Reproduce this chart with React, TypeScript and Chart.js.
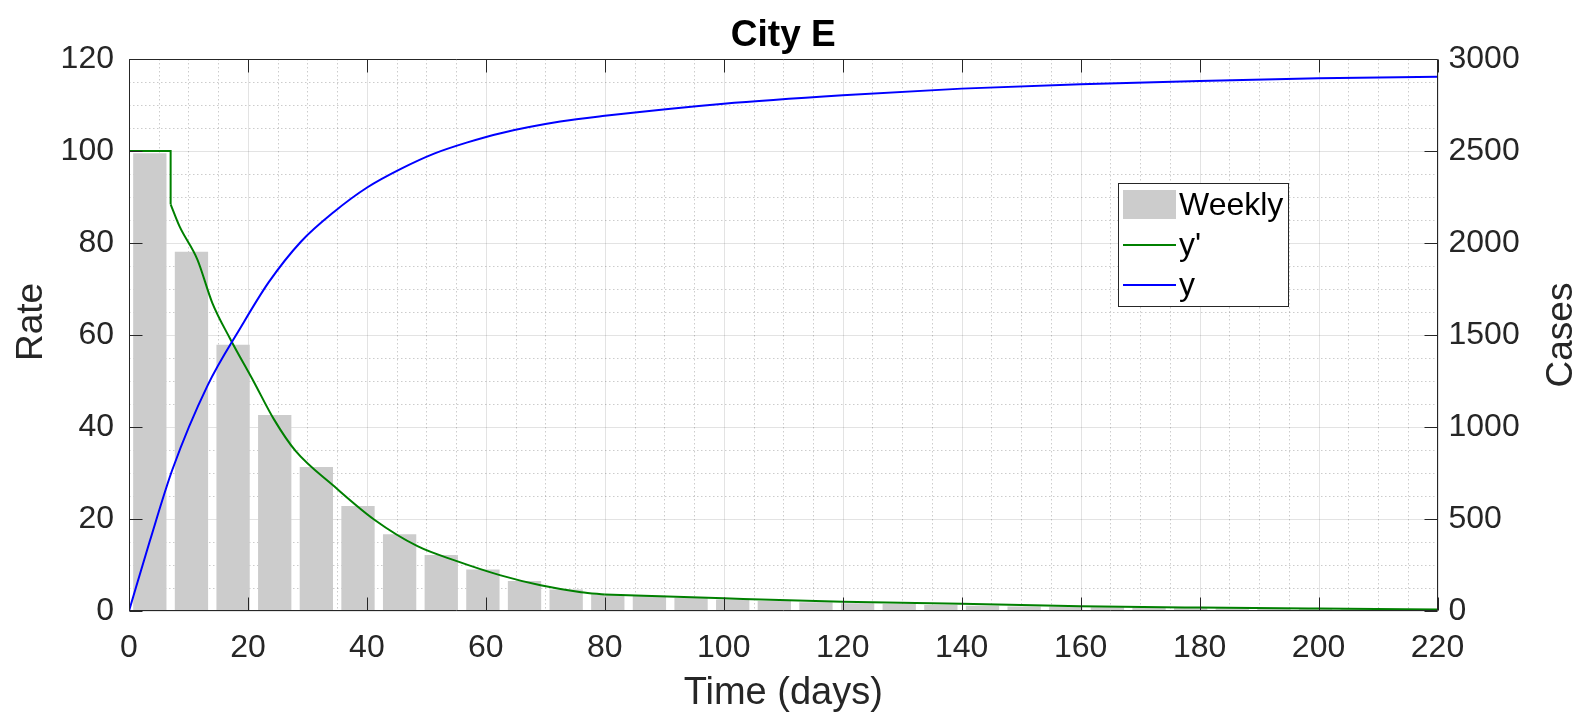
import React, { useEffect, useRef } from 'react';
import { Chart, registerables } from 'chart.js';

Chart.register(...registerables);

const FONT = '"Liberation Sans", Arial, Helvetica, sans-serif';

const chartTitle = 'City E';
const xTitle = 'Time (days)';
const yLeftTitle = 'Rate';
const yRightTitle = 'Cases';
const legendLabels = ['Weekly', "y'", 'y'];

const xTickValues = [0, 20, 40, 60, 80, 100, 120, 140, 160, 180, 200, 220];
const yLeftTickValues = [0, 20, 40, 60, 80, 100, 120];
const yRightTickValues = [0, 500, 1000, 1500, 2000, 2500, 3000];

const weekCenters = [3.5, 10.5, 17.5, 24.5, 31.5, 38.5, 45.5, 52.5, 59.5, 66.5, 73.5, 80.5, 87.5, 94.5, 101.5, 108.5, 115.5, 122.5, 129.5, 136.5, 143.5, 150.5, 157.5, 164.5, 171.5, 178.5, 185.5, 192.5, 199.5, 206.5, 213.5, 220.5];
const weeklyRate = [99.5, 78.1, 57.9, 42.6, 31.3, 22.8, 16.7, 12.2, 9.0, 6.5, 4.7, 3.6, 3.3, 2.8, 2.5, 2.2, 1.9, 1.7, 1.5, 1.3, 1.15, 1.0, 0.9, 0.8, 0.7, 0.65, 0.6, 0.55, 0.5, 0.45, 0.4, 0.35];

// y' : flat start, drop at day 7, smooth decay to day 80, slow tail after
const rateHeadDays = [0, 7, 7];
const rateHeadValues = [100, 100, 88.4];
const rateMidDays = [7, 8.5, 11.5, 14, 17, 21, 24.4, 28, 34.5, 41.2, 48.5, 55, 62.5, 69.2, 76, 80];
const rateMidValues = [88.4, 83.6, 76.4, 67.0, 59.2, 49.8, 41.6, 34.8, 27.1, 19.9, 14.1, 10.9, 7.75, 5.6, 4.1, 3.6];
const rateTailDays = [80, 100, 120, 140, 160, 180, 200, 220];
const rateTailValues = [3.6, 2.75, 2.0, 1.55, 1.05, 0.75, 0.52, 0.32];

const caseDays = [0, 3.5, 7.3, 13.2, 18.8, 23.5, 28.9, 34.5, 40.1, 45.7, 51.3, 56.9, 62.5, 72.5, 80, 100, 120, 140, 160, 180, 200, 220];
const caseValues = [0, 380, 769, 1225, 1542, 1787, 2007, 2170, 2303, 2403, 2486, 2547, 2597, 2660, 2691, 2757, 2803, 2839, 2863, 2881, 2895, 2904];

const xMinorValues = [5, 10, 15, 25, 30, 35, 45, 50, 55, 65, 70, 75, 85, 90, 95, 105, 110, 115, 125, 130, 135, 145, 150, 155, 165, 170, 175, 185, 190, 195, 205, 210, 215];
const yMinorValues = [5, 10, 15, 25, 30, 35, 45, 50, 55, 65, 70, 75, 85, 90, 95, 105, 110, 115];

const BAR_COLOR = '#cccccc';
const GREEN = '#008000';
const BLUE = '#0000ff';
const AXIS = '#262626';

const toPoints = (xs: number[], ys: number[]) => xs.map((d, i) => ({ x: d, y: ys[i] }));

const decorPlugin = {
  id: 'matlabDecor',
  beforeDatasetsDraw(chart: any) {
    const { ctx, chartArea: a, scales } = chart;
    const x = scales.x;
    const y = scales.y;
    ctx.save();
    ctx.lineWidth = 1;
    ctx.strokeStyle = 'rgba(0,0,0,0.2)';
    ctx.setLineDash([1.5, 2.5]);
    xMinorValues.forEach((v) => {
      const px = Math.round(x.getPixelForValue(v)) + 0.5;
      ctx.beginPath();
      ctx.moveTo(px, a.top);
      ctx.lineTo(px, a.bottom);
      ctx.stroke();
    });
    yMinorValues.forEach((v) => {
      const py = Math.round(y.getPixelForValue(v)) + 0.5;
      ctx.beginPath();
      ctx.moveTo(a.left, py);
      ctx.lineTo(a.right, py);
      ctx.stroke();
    });
    ctx.setLineDash([]);
    ctx.strokeStyle = 'rgba(0,0,0,0.11)';
    xTickValues.forEach((v) => {
      const px = Math.round(x.getPixelForValue(v)) + 0.5;
      ctx.beginPath();
      ctx.moveTo(px, a.top);
      ctx.lineTo(px, a.bottom);
      ctx.stroke();
    });
    yLeftTickValues.forEach((v) => {
      const py = Math.round(y.getPixelForValue(v)) + 0.5;
      ctx.beginPath();
      ctx.moveTo(a.left, py);
      ctx.lineTo(a.right, py);
      ctx.stroke();
    });
    ctx.restore();
  },
  afterDatasetsDraw(chart: any) {
    const { ctx, chartArea: a, scales } = chart;
    const x = scales.x;
    const y = scales.y;
    const y1 = scales.y1;
    ctx.save();
    ctx.lineWidth = 1;
    ctx.strokeStyle = AXIS;
    const L = Math.round(a.left) + 0.5;
    const R = Math.round(a.right) - 0.5;
    const T = Math.round(a.top) + 0.5;
    const B = Math.round(a.bottom) - 0.5;
    ctx.beginPath();
    ctx.rect(L, T, R - L, B - T);
    ctx.stroke();
    const TL = 13;
    xTickValues.forEach((v) => {
      const px = Math.round(x.getPixelForValue(v)) + 0.5;
      ctx.beginPath();
      ctx.moveTo(px, B);
      ctx.lineTo(px, B - TL);
      ctx.moveTo(px, T);
      ctx.lineTo(px, T + TL);
      ctx.stroke();
    });
    yLeftTickValues.forEach((v) => {
      const py = Math.round(y.getPixelForValue(v)) + 0.5;
      ctx.beginPath();
      ctx.moveTo(L, py);
      ctx.lineTo(L + TL, py);
      ctx.stroke();
    });
    yRightTickValues.forEach((v) => {
      const py = Math.round(y1.getPixelForValue(v)) + 0.5;
      ctx.beginPath();
      ctx.moveTo(R, py);
      ctx.lineTo(R - TL, py);
      ctx.stroke();
    });

    // legend
    const lx = 1118.5;
    const ly = 183.5;
    const lw = 170;
    const lh = 123;
    ctx.fillStyle = '#ffffff';
    ctx.fillRect(lx, ly, lw, lh);
    ctx.strokeStyle = AXIS;
    ctx.strokeRect(lx, ly, lw, lh);
    ctx.fillStyle = BAR_COLOR;
    ctx.fillRect(1123, 190, 53, 29);
    ctx.lineWidth = 2;
    ctx.strokeStyle = GREEN;
    ctx.beginPath();
    ctx.moveTo(1123, 245);
    ctx.lineTo(1176, 245);
    ctx.stroke();
    ctx.strokeStyle = BLUE;
    ctx.beginPath();
    ctx.moveTo(1123, 285);
    ctx.lineTo(1176, 285);
    ctx.stroke();
    ctx.fillStyle = '#000000';
    ctx.font = `32px ${FONT}`;
    ctx.textAlign = 'left';
    ctx.textBaseline = 'middle';
    ctx.fillText(legendLabels[0], 1179, 206);
    ctx.fillText(legendLabels[1], 1179, 246);
    ctx.fillText(legendLabels[2], 1179, 286);

    // title
    ctx.font = `bold 37px ${FONT}`;
    ctx.textAlign = 'center';
    ctx.textBaseline = 'alphabetic';
    ctx.fillStyle = '#000000';
    ctx.fillText(chartTitle, (a.left + a.right) / 2, 46);

    // left axis title
    ctx.save();
    ctx.translate(32, 322);
    ctx.rotate(-Math.PI / 2);
    ctx.font = `37px ${FONT}`;
    ctx.fillStyle = AXIS;
    ctx.textAlign = 'center';
    ctx.textBaseline = 'middle';
    ctx.fillText(yLeftTitle, 0, 0);
    ctx.restore();

    // right axis title (reads bottom to top)
    ctx.save();
    ctx.translate(1562, (a.top + a.bottom) / 2);
    ctx.rotate(-Math.PI / 2);
    ctx.font = `37px ${FONT}`;
    ctx.fillStyle = AXIS;
    ctx.textAlign = 'center';
    ctx.textBaseline = 'middle';
    ctx.fillText(yRightTitle, 0, 0);
    ctx.restore();

    ctx.restore();
  },
};

export default function App() {
  const canvasRef = useRef<HTMLCanvasElement | null>(null);

  useEffect(() => {
    const canvas = canvasRef.current;
    if (!canvas) return;
    Chart.defaults.font.family = FONT;

    const lineBase = {
      type: 'line',
      borderWidth: 2,
      pointRadius: 0,
      fill: false,
      xAxisID: 'x',
    };

    const chart = new Chart(canvas, {
      type: 'bar',
      data: {
        datasets: [
          {
            ...lineBase,
            label: legendLabels[2],
            data: toPoints(caseDays, caseValues),
            borderColor: BLUE,
            cubicInterpolationMode: 'monotone',
            yAxisID: 'y1',
            order: 0,
          } as any,
          {
            ...lineBase,
            label: legendLabels[1],
            data: toPoints(rateHeadDays, rateHeadValues),
            borderColor: GREEN,
            tension: 0,
            yAxisID: 'y',
            order: 1,
          } as any,
          {
            ...lineBase,
            label: legendLabels[1],
            data: toPoints(rateMidDays, rateMidValues),
            borderColor: GREEN,
            cubicInterpolationMode: 'monotone',
            yAxisID: 'y',
            order: 1,
          } as any,
          {
            ...lineBase,
            label: legendLabels[1],
            data: toPoints(rateTailDays, rateTailValues),
            borderColor: GREEN,
            cubicInterpolationMode: 'monotone',
            yAxisID: 'y',
            order: 1,
          } as any,
          {
            type: 'bar',
            label: legendLabels[0],
            data: toPoints(weekCenters, weeklyRate),
            backgroundColor: BAR_COLOR,
            borderWidth: 0,
            barPercentage: 0.8,
            categoryPercentage: 1,
            xAxisID: 'x',
            yAxisID: 'y',
            order: 2,
          } as any,
        ],
      },
      options: {
        responsive: false,
        maintainAspectRatio: false,
        animation: false,
        events: [],
        layout: { padding: { top: 59, left: 0, right: 0, bottom: 0 } },
        plugins: {
          legend: { display: false },
          title: { display: false },
          tooltip: { enabled: false },
        },
        scales: {
          x: {
            type: 'linear',
            position: 'bottom',
            min: 0,
            max: 220,
            offset: false,
            afterFit: (s: any) => {
              s.height = 103;
            },
            afterBuildTicks: (s: any) => {
              s.ticks = xTickValues.map((v) => ({ value: v }));
            },
            ticks: {
              color: AXIS,
              font: { size: 32, family: FONT },
              padding: 18,
              maxRotation: 0,
              autoSkip: false,
              callback: (v: any) => String(v),
            },
            grid: { display: false, drawTicks: false },
            border: { display: false },
            title: {
              display: true,
              text: xTitle,
              color: AXIS,
              font: { size: 38, family: FONT, lineHeight: 1 },
              padding: { top: 0, bottom: 1 },
            },
          },
          y: {
            type: 'linear',
            position: 'left',
            min: 0,
            max: 120,
            afterFit: (s: any) => {
              s.width = 129;
            },
            afterBuildTicks: (s: any) => {
              s.ticks = yLeftTickValues.map((v) => ({ value: v }));
            },
            ticks: {
              color: AXIS,
              font: { size: 32, family: FONT },
              padding: 15,
              autoSkip: false,
              callback: (v: any) => String(v),
            },
            grid: { display: false, drawTicks: false },
            border: { display: false },
            title: { display: false },
          },
          y1: {
            type: 'linear',
            position: 'right',
            min: 0,
            max: 3000,
            afterFit: (s: any) => {
              s.width = 140.5;
            },
            afterBuildTicks: (s: any) => {
              s.ticks = yRightTickValues.map((v) => ({ value: v }));
            },
            ticks: {
              color: AXIS,
              font: { size: 32, family: FONT },
              padding: 11,
              autoSkip: false,
              callback: (v: any) => String(v),
            },
            grid: { display: false, drawTicks: false },
            border: { display: false },
            title: { display: false },
          },
        },
      },
      plugins: [decorPlugin],
    } as any);

    return () => {
      chart.destroy();
    };
  }, []);

  return (
    <div style={{ position: 'fixed', left: 0, top: 0, width: 1578, height: 714, background: '#ffffff' }}>
      <canvas ref={canvasRef} width={1578} height={714} style={{ display: 'block', width: 1578, height: 714 }} />
    </div>
  );
}
